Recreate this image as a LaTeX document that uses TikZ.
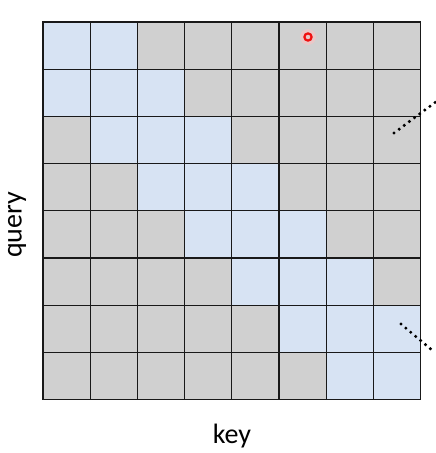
\documentclass[tikz,border=0pt]{standalone}
\usepackage{fontspec}
\setmainfont{Carlito}
\usepackage{xcolor}
\usetikzlibrary{positioning, calc}
\definecolor{maskgray}{HTML}{D0D0D0}
\definecolor{attnblue}{HTML}{D7E3F3}
\definecolor{cursorred}{HTML}{F01010}

\begin{document}
\begin{tikzpicture}[
    x=1pt, y=-1pt,
    cell/.style={draw=black!90, line width=1.2pt, fill=#1},
    cell/.default=maskgray,
    axislabel/.style={font=\fontsize{28}{30}\selectfont, inner sep=0pt},
    dotline/.style={line width=3.4pt, line cap=round, dash pattern=on 0pt off 6.4pt}
]
\useasboundingbox (0,0) rectangle (436,453);

% Mask grid: band |i-j| <= 1 is attended
\foreach \i in {0,...,7} {
  \foreach \j in {0,...,7} {
    \pgfmathtruncatemacro{\d}{abs(\i-\j)}
    \ifnum\d<2
      \draw[cell=attnblue] (43+47.2*\j,22+47.2*\i) rectangle ++(47.2,47.2);
    \else
      \draw[cell] (43+47.2*\j,22+47.2*\i) rectangle ++(47.2,47.2);
    \fi
  }
}

% Cursor mark
\fill[cursorred!25, opacity=0.6] (308,37) circle (8);
\draw[cursorred, line width=2.2pt] (308,37) circle (3.6);

% Labels
\node[axislabel, rotate=90] (query) at (17,225) {query};
\node[axislabel] (key) at (232,436) {key};

% Continuation dots
\coordinate (dotA1) at (394,133);
\coordinate (dotA2) at (437,101);
\coordinate (dotB1) at (401,324);
\coordinate (dotB2) at (433,351);
\draw[dotline] (dotA1) -- (dotA2);
\draw[dotline] (dotB1) -- (dotB2);

\end{tikzpicture}
\end{document}
